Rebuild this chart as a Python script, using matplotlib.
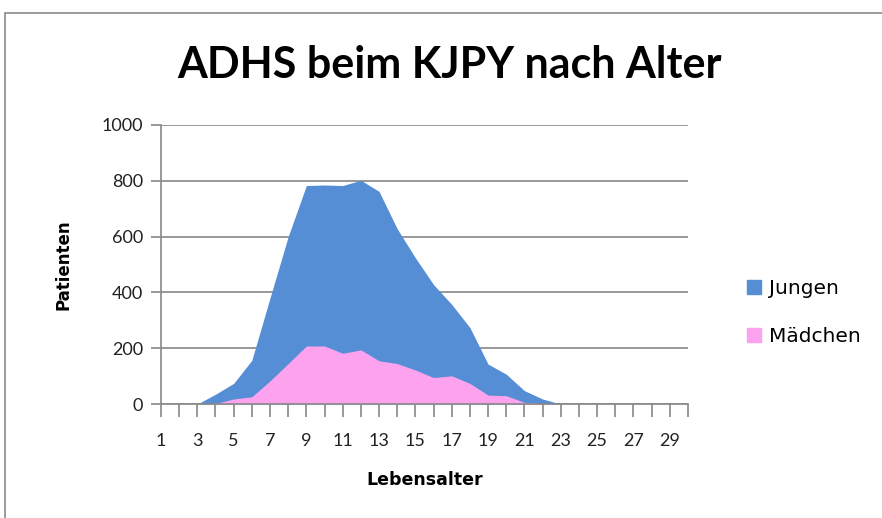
import matplotlib.pyplot as plt
from matplotlib.patches import Patch, Rectangle

plt.rcParams['font.family'] = ['Lato', 'DejaVu Sans']

# Daten
alter = list(range(1, 31))
jungen = [0, 0, 0, 35, 74, 157, 380, 600, 783, 785, 783, 802, 762, 628, 524,
          428, 357, 274, 143, 107, 48, 18, 0, 0, 0, 0, 0, 0, 0, 0]
maedchen = [0, 0, 0, 2, 18, 26, 83, 145, 208, 208, 182, 194, 155, 145, 122,
            95, 101, 74, 32, 30, 6, 2, 0, 0, 0, 0, 0, 0, 0, 0]
y_ticks = [0, 200, 400, 600, 800, 1000]

farbe_jungen = '#558ED5'
farbe_maedchen = '#FCA2EE'
grau = '#888888'

fig = plt.figure(figsize=(8.82, 5.18), dpi=100)
ax = fig.add_axes([0.1825, 0.22, 0.5975, 0.5387])

ax.fill_between(alter, jungen, 0, color=farbe_jungen, lw=0, zorder=2)
ax.fill_between(alter, maedchen, 0, color=farbe_maedchen, lw=0, zorder=3)

ax.set_xlim(1, 30)
ax.set_ylim(0, 1000)
ax.set_yticks(y_ticks)
ax.set_xticks(alter)
ax.set_xticklabels([str(a) if a % 2 == 1 else '' for a in alter])
ax.yaxis.grid(True, color=grau, lw=1.2, zorder=1)
ax.set_axisbelow(True)

for s in ['top', 'right']:
    ax.spines[s].set_visible(False)
for s in ['left', 'bottom']:
    ax.spines[s].set_color(grau)
    ax.spines[s].set_linewidth(1.2)
    ax.spines[s].set_zorder(4)

ax.tick_params(axis='both', colors=grau, labelcolor='#222222', labelsize=13,
               width=1.2)
ax.tick_params(axis='x', length=9, pad=12)
ax.tick_params(axis='y', length=7, pad=6)

ax.set_xlabel('Lebensalter', fontsize=12.5, fontweight='bold', labelpad=16,
              family='DejaVu Sans')
ax.set_ylabel('Patienten', fontsize=12, fontweight='bold', labelpad=21,
              family='DejaVu Sans')

fig.text(0.51, 0.875, 'ADHS beim KJPY nach Alter', ha='center', va='center',
         fontsize=31, fontweight='bold')

handles = [Patch(color=farbe_jungen), Patch(color=farbe_maedchen)]
fig.legend(handles, ['Jungen', 'Mädchen'], loc='center left',
           bbox_to_anchor=(0.826, 0.396), frameon=False,
           prop={'family': 'DejaVu Sans', 'size': 14.5},
           labelspacing=1.45, handlelength=0.7, handleheight=0.7,
           handletextpad=0.4)

# Diagrammrahmen
fig.patches.append(Rectangle((5 / 882, -0.1), 1.1, 1 - 13 / 518 + 0.1,
                             transform=fig.transFigure, fill=False,
                             edgecolor='#8a8a8a', lw=1.2))

fig.savefig('out.png', dpi=100)
